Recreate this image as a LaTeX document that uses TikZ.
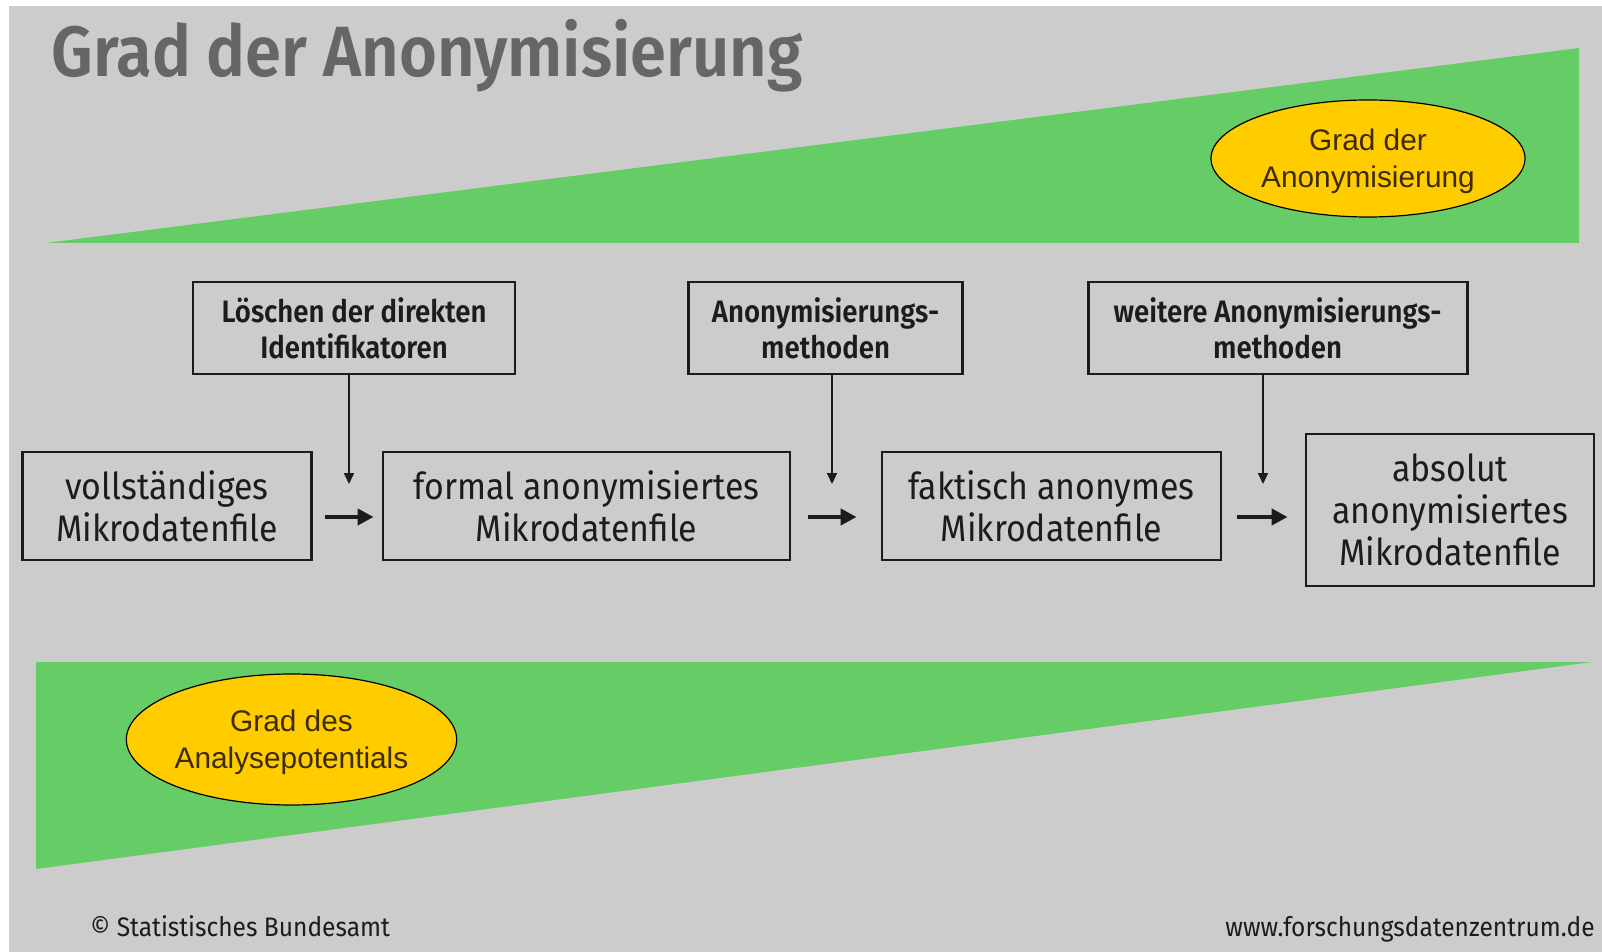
\documentclass[tikz,border=0pt]{standalone}
\usepackage{fontspec}
\setmainfont{Liberation Sans}
\newfontfamily\firacond[FakeStretch=0.915]{Fira Sans}
\newfontfamily\firasemi[FakeStretch=0.89]{Fira Sans SemiBold}
\newfontfamily\firatitle[FakeStretch=0.913]{Fira Sans SemiBold}
\usetikzlibrary{arrows.meta,positioning,shapes.geometric}
\definecolor{bggray}{HTML}{CCCCCC}
\definecolor{wedgegreen}{HTML}{66CC66}
\definecolor{badgeyellow}{HTML}{FFCC00}
\definecolor{titlegray}{HTML}{666666}
\definecolor{badgetext}{HTML}{3D2B00}
\definecolor{inkdark}{HTML}{1C1C1C}

\begin{document}
\begin{tikzpicture}[x=0.5pt,y=-0.5pt,
  filebox/.style={draw=inkdark,line width=1.4pt,align=center,inner sep=0pt,
    text=inkdark,font=\firacond\fontsize{18.5}{21}\selectfont,minimum height=54pt},
  methodbox/.style={draw=inkdark,line width=1.4pt,align=center,inner sep=0pt,
    text=inkdark,font=\firasemi\fontsize{15.5}{17.9}\selectfont,minimum height=46pt},
  badge/.style={ellipse,draw=black,line width=0.6pt,fill=badgeyellow,text=badgetext,
    inner sep=0pt,align=center,text depth=0pt,font=\fontsize{14.9}{18.4}\selectfont},
  steparrow/.style={-{Triangle[length=8pt,width=8pt]},line width=2pt,inkdark},
  feedarrow/.style={-{Triangle[length=5.5pt,width=5pt]},line width=1pt,inkdark},
  footer/.style={inner sep=0pt,text=inkdark,font=\firacond\fontsize{13.4}{16}\selectfont}]
% background and the two wedges
\fill[white] (0,0) rectangle (1602,952);
\fill[bggray] (9,6) rectangle (1602,952);
\useasboundingbox (0,0) rectangle (1602,952);
\fill[wedgegreen] (46,243) -- (1579,243) -- (1579,48) -- cycle;
\fill[wedgegreen] (36,662) -- (1592,662) -- (36,869) -- cycle;

\node[anchor=base west,inner sep=0pt,text=titlegray,
  font=\firatitle\fontsize{35.6}{40}\selectfont] (title) at (51,77) {Grad der Anonymisierung};

\node[badge,minimum width=157pt,minimum height=58.5pt] (anon) at (1368,158.5) {Grad der\\Anonymisierung};
\node[badge,minimum width=163.5pt,minimum height=65.5pt] (analysis) at (291.5,739.5) {Grad des\\Analysepotentials};

% files
\node[filebox,minimum width=144.5pt] (full) at (167,506) {vollständiges\\Mikrodatenfile};
\node[filebox,minimum width=203.5pt] (formal) at (586.5,506) {formal anonymisiertes\\Mikrodatenfile};
\node[filebox,minimum width=169.5pt] (factual) at (1051.5,506) {faktisch anonymes\\Mikrodatenfile};
\node[filebox,minimum width=144pt,minimum height=76pt] (absolute) at (1450,510) {absolut\\anonymisiertes\\Mikrodatenfile};

% methods
\node[methodbox,minimum width=161pt] (delete) at (354,328) {Löschen der direkten\\Identifikatoren};
\node[methodbox,minimum width=137pt] (methods) at (825.6,328) {Anonymisierungs-\\methoden};
\node[methodbox,minimum width=189.5pt] (further) at (1277.6,328) {weitere Anonymisierungs-\\methoden};

\coordinate (in1) at (349,484);
\coordinate (in2) at (832,484);
\coordinate (in3) at (1263,484);
\draw[feedarrow] (delete.south -| in1) -- (in1);
\draw[feedarrow] (methods.south -| in2) -- (in2);
\draw[feedarrow] (further.south -| in3) -- (in3);

\coordinate (entry3) at (factual.east -| absolute.west);
\draw[steparrow] ([xshift=6pt,yshift=-5.5pt]full.east) -- ([xshift=-4pt,yshift=-5.5pt]formal.west);
\draw[steparrow] ([xshift=8.5pt,yshift=-5.5pt]formal.east) -- ([xshift=-12pt,yshift=-5.5pt]factual.west);
\draw[steparrow] ([xshift=7.5pt,yshift=-5.5pt]factual.east) -- ([xshift=-8.5pt,yshift=-5.5pt]entry3);

\node[footer,anchor=base west] (copyright) at (90,936) {© Statistisches Bundesamt};
\node[footer,anchor=base east] (website) at (1595,936) {www.forschungsdatenzentrum.de};
\end{tikzpicture}
\end{document}
